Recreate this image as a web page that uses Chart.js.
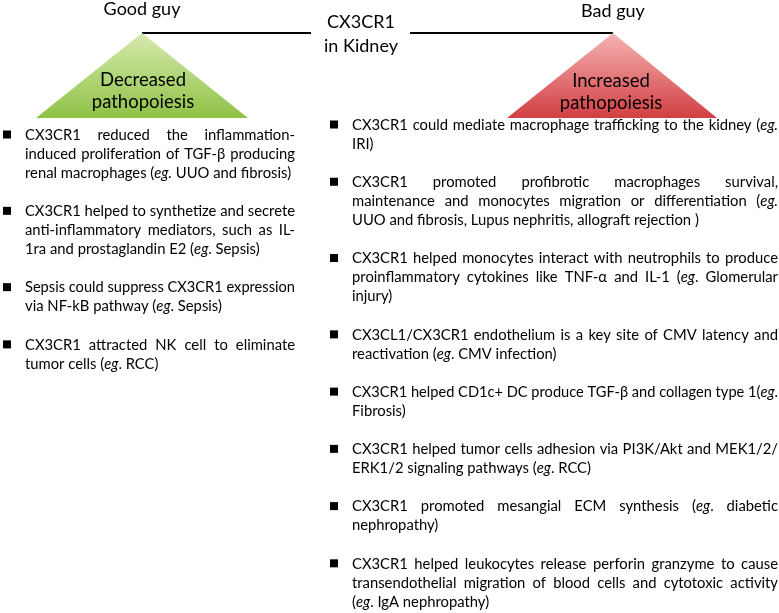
<!DOCTYPE html>
<html>
<head>
<meta charset="utf-8">
<script src="https://cdn.jsdelivr.net/npm/chart.js@4.4.1/dist/chart.umd.min.js"></script>
<style>
html,body{margin:0;padding:0;background:#fff;}
canvas{display:block;}
</style>
</head>
<body>
<canvas id="c" width="779" height="613"></canvas>
<script>
// ---------------- DATA ----------------
const centerTitle = ['CX3CR1', 'in Kidney'];
const sideTitles = ['Good guy', 'Bad guy'];
const triangleLabels = [['Decreased', 'pathopoiesis'], ['Increased', 'pathopoiesis']];

const goodItems = [
  ['CX3CR1 reduced the inflammation-', 'induced proliferation of TGF-\u03B2 producing', 'renal macrophages (*eg.* UUO and fibrosis)'],
  ['CX3CR1 helped to synthetize and secrete', 'anti-inflammatory mediators, such as IL-', '1ra and prostaglandin E2 (*eg*. Sepsis)'],
  ['Sepsis could suppress CX3CR1 expression', 'via NF-kB pathway (*eg*. Sepsis)'],
  ['CX3CR1 attracted NK cell to eliminate', 'tumor cells (*eg*. RCC)']
];

const badItems = [
  ['CX3CR1 could mediate macrophage trafficking to the kidney (*eg.*', 'IRI)'],
  ['CX3CR1 promoted profibrotic  macrophages survival,', 'maintenance and monocytes migration or differentiation (*eg.*', 'UUO and fibrosis, Lupus nephritis, allograft rejection )'],
  ['CX3CR1 helped monocytes interact with neutrophils to produce', 'proinflammatory cytokines like TNF-\u03B1 and IL-1 (*eg*. Glomerular', 'injury)'],
  ['CX3CL1/CX3CR1 endothelium is a key site of CMV latency and', 'reactivation (*eg*. CMV infection)'],
  ['CX3CR1 helped CD1c+ DC produce TGF-\u03B2 and collagen type 1(*eg*.', 'Fibrosis)'],
  ['CX3CR1 helped tumor cells adhesion via PI3K/Akt and MEK1/2/', 'ERK1/2 signaling pathways (*eg*. RCC)'],
  ['CX3CR1 promoted mesangial ECM synthesis (*eg*. diabetic', 'nephropathy)'],
  ['CX3CR1 helped leukocytes release perforin granzyme to cause', 'transendothelial migration of blood cells and cytotoxic activity', '(*eg*. IgA nephropathy)']
];

// -------------- LAYOUT (diagram geometry in scale units) --------------
const L = {
  W: 779, H: 613,
  greenTri: {apexX: 142, apexY: 33, left: 36, right: 248, base: 118},
  redTri:   {apexX: 613, apexY: 33, left: 507, right: 717, base: 118},
  leftLine:  {x0: 142, x1: 311, y: 33},
  rightLine: {x0: 410, x1: 613, y: 33},
  title: {x: 361, y1: 22, y2: 46},
  goodTitle: {x: 142, y: 9}, badTitle: {x: 613, y: 11},
  greenText: {x: 143, y1: 80, y2: 102},
  redText: {x: 611, y1: 81, y2: 103},
  leftCol: {bullet: 3, x0: 25, x1: 295, y0: 134, lh: 19.08},
  rightCol: {bullet: 330, x0: 352, x1: 778, y0: 124, lh: 19.08}
};

const FONT = 'Lato, "Open Sans", sans-serif';
const BODY = 14.8;

function triData(t) {
  return [{x: t.left, y: t.base}, {x: t.apexX, y: t.apexY}, {x: t.right, y: t.base}];
}
function gradientFor(t, top, bottom) {
  return function (c) {
    const ch = c.chart;
    if (!ch.chartArea) return bottom;
    const ys = ch.scales.y;
    const g = ch.ctx.createLinearGradient(0, ys.getPixelForValue(t.apexY), 0, ys.getPixelForValue(t.base));
    g.addColorStop(0, top);
    g.addColorStop(1, bottom);
    return g;
  };
}

function drawRichLine(ctx, x0, x1, y, text, justify, startItalic) {
  let italic = startItalic;
  const words = text.split(' ');
  const parsed = [];
  for (const w of words) {
    if (w === '') continue;
    const segs = [];
    let buf = '';
    for (const ch of w) {
      if (ch === '*') { if (buf) segs.push({t: buf, i: italic}); buf = ''; italic = !italic; }
      else buf += ch;
    }
    if (buf) segs.push({t: buf, i: italic});
    if (segs.length) parsed.push(segs);
  }
  const setF = (i) => { ctx.font = (i ? 'italic ' : '') + BODY + 'px ' + FONT; };
  setF(false);
  const sp = ctx.measureText(' ').width;
  let W = 0;
  const widths = parsed.map(segs => {
    let w = 0;
    for (const s of segs) { setF(s.i); w += ctx.measureText(s.t).width; }
    W += w; return w;
  });
  const n = parsed.length - 1;
  const target = x1 - x0;
  const natural = W + n * sp;
  let gap = sp, scale = 1;
  if (natural > target) { scale = target / natural; }
  else if (justify && n > 0) { gap = (target - W) / n; }
  ctx.save();
  ctx.translate(x0, y);
  ctx.scale(scale, 1);
  let x = 0;
  parsed.forEach((segs, k) => {
    let xx = x;
    for (const s of segs) { setF(s.i); ctx.fillText(s.t, xx, 0); xx += ctx.measureText(s.t).width; }
    x += widths[k] + gap;
  });
  ctx.restore();
  return italic;
}

function drawColumn(ctx, xs, ys, items, col) {
  let row = 0;
  items.forEach(lines => {
    const yc = ys.getPixelForValue(col.y0 + row * col.lh);
    ctx.fillStyle = '#000';
    ctx.fillRect(xs.getPixelForValue(col.bullet), yc - 3.5, 8, 8);
    let it = false;
    lines.forEach((ln, i) => {
      const y = ys.getPixelForValue(col.y0 + (row + i) * col.lh);
      it = drawRichLine(ctx, xs.getPixelForValue(col.x0), xs.getPixelForValue(col.x1), y + 1, ln, i < lines.length - 1, it);
    });
    row += lines.length + 1;
  });
}

const textPlugin = {
  id: 'diagramText',
  afterDatasetsDraw(chart) {
    const ctx = chart.ctx, xs = chart.scales.x, ys = chart.scales.y;
    ctx.save();
    ctx.fillStyle = '#000';
    ctx.textBaseline = 'middle';
    ctx.textAlign = 'center';
    ctx.font = '18px ' + FONT;
    ctx.fillText(sideTitles[0], xs.getPixelForValue(L.goodTitle.x), ys.getPixelForValue(L.goodTitle.y));
    ctx.fillText(sideTitles[1], xs.getPixelForValue(L.badTitle.x), ys.getPixelForValue(L.badTitle.y));
    ctx.fillText(centerTitle[0], xs.getPixelForValue(L.title.x), ys.getPixelForValue(L.title.y1));
    ctx.fillText(centerTitle[1], xs.getPixelForValue(L.title.x), ys.getPixelForValue(L.title.y2));
    ctx.font = '18.5px ' + FONT;
    ctx.fillText(triangleLabels[0][0], xs.getPixelForValue(L.greenText.x), ys.getPixelForValue(L.greenText.y1));
    ctx.fillText(triangleLabels[0][1], xs.getPixelForValue(L.greenText.x), ys.getPixelForValue(L.greenText.y2));
    ctx.fillText(triangleLabels[1][0], xs.getPixelForValue(L.redText.x), ys.getPixelForValue(L.redText.y1));
    ctx.fillText(triangleLabels[1][1], xs.getPixelForValue(L.redText.x), ys.getPixelForValue(L.redText.y2));
    ctx.textAlign = 'left';
    drawColumn(ctx, xs, ys, goodItems, L.leftCol);
    drawColumn(ctx, xs, ys, badItems, L.rightCol);
    ctx.restore();
  }
};

const chart = new Chart(document.getElementById('c'), {
  type: 'scatter',
  data: {
    datasets: [
      {
        data: triData(L.greenTri), showLine: true, tension: 0, pointRadius: 0, borderWidth: 0,
        borderColor: 'rgba(0,0,0,0)', fill: {value: L.greenTri.base},
        backgroundColor: gradientFor(L.greenTri, '#d6eaae', '#8fc246')
      },
      {
        data: triData(L.redTri), showLine: true, tension: 0, pointRadius: 0, borderWidth: 0,
        borderColor: 'rgba(0,0,0,0)', fill: {value: L.redTri.base},
        backgroundColor: gradientFor(L.redTri, '#f6b4b4', '#d13f42')
      },
      {
        data: [{x: L.leftLine.x0, y: L.leftLine.y}, {x: L.leftLine.x1, y: L.leftLine.y}],
        showLine: true, pointRadius: 0, borderColor: '#000', borderWidth: 2, fill: false
      },
      {
        data: [{x: L.rightLine.x0, y: L.rightLine.y}, {x: L.rightLine.x1, y: L.rightLine.y}],
        showLine: true, pointRadius: 0, borderColor: '#000', borderWidth: 2, fill: false
      }
    ]
  },
  options: {
    responsive: false,
    animation: false,
    devicePixelRatio: 1,
    layout: {padding: 0},
    plugins: {legend: {display: false}, tooltip: {enabled: false}},
    scales: {
      x: {type: 'linear', min: 0, max: L.W, display: false},
      y: {type: 'linear', min: 0, max: L.H, reverse: true, display: false}
    }
  },
  plugins: [textPlugin]
});
</script>
</body>
</html>
